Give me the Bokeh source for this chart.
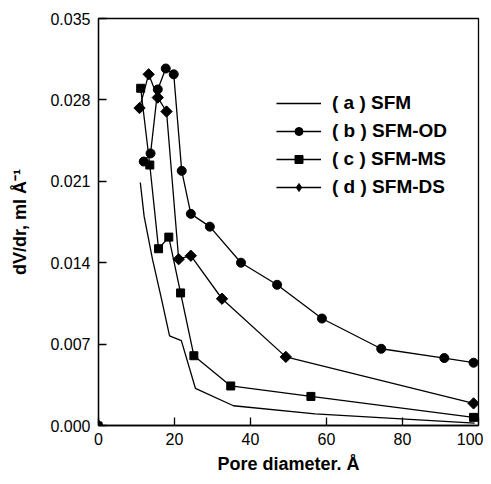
import math
from bokeh.plotting import figure
from bokeh.models import FixedTicker, Legend, LegendItem, PrintfTickFormatter
from bokeh.embed import file_html
from bokeh.resources import INLINE

# (a) SFM - line only
a_x = [11.0, 12.0, 14.2, 16.5, 18.7, 21.8, 25.5, 35.5, 57.0, 99.0]
a_y = [0.0209, 0.0180, 0.0143, 0.0110, 0.0077, 0.0073, 0.0032, 0.0017, 0.0010, 0.0002]
# (b) SFM-OD - circles
b_x = [11.9, 13.7, 15.6, 17.7, 19.8, 21.9, 24.3, 29.3, 37.5, 47.0, 58.8, 74.4, 91.0, 98.7]
b_y = [0.0227, 0.0234, 0.0289, 0.0307, 0.0302, 0.0219, 0.0182, 0.0171, 0.0140, 0.0121, 0.0092, 0.0066, 0.0058, 0.0054]
# (c) SFM-MS - squares
c_x = [11.1, 13.5, 15.8, 18.5, 21.6, 25.1, 34.8, 55.9, 98.7]
c_y = [0.0290, 0.0224, 0.0152, 0.0162, 0.0114, 0.0060, 0.0034, 0.0025, 0.0007]
# (d) SFM-DS - diamonds
d_x = [10.8, 13.2, 15.6, 17.9, 21.1, 24.3, 32.5, 49.3, 98.7]
d_y = [0.0273, 0.0302, 0.0282, 0.0270, 0.0143, 0.0146, 0.0109, 0.0059, 0.0019]

labels = ["( a ) SFM", "( b ) SFM-OD", "( c ) SFM-MS", "( d ) SFM-DS"]
x_ticks = [0, 20, 40, 60, 80, 100]
y_ticks = [0.0, 0.007, 0.014, 0.021, 0.028, 0.035]

FONT = "Liberation Sans"

p = figure(width=483, height=476, output_backend="svg", toolbar_location=None,
           x_range=(0, 100), y_range=(0, 0.035),
           min_border_left=98, min_border_right=5, min_border_top=18, min_border_bottom=50)
p.grid.visible = False
p.outline_line_color = "black"
p.outline_line_width = 1.3
p.background_fill_color = "white"
p.border_fill_color = "white"

lw = 1.3
ra = p.line(a_x, a_y, line_color="black", line_width=lw)
rb = p.line(b_x, b_y, line_color="black", line_width=lw)
rbs = p.scatter(b_x, b_y, marker="circle", size=9, fill_color="black", line_color="black")
rc = p.line(c_x, c_y, line_color="black", line_width=lw)
rcs = p.scatter(c_x, c_y, marker="square", size=8, fill_color="black", line_color="black")
rd = p.line(d_x, d_y, line_color="black", line_width=lw)
rds = p.scatter(d_x, d_y, marker="square", angle=math.pi / 4, size=8, fill_color="black", line_color="black")

# smaller markers for the legend
lb = p.scatter([None], [None], marker="circle", size=8, fill_color="black", line_color="black")
lc = p.scatter([None], [None], marker="square", size=7, fill_color="black", line_color="black")
ld = p.scatter([None], [None], marker="diamond", size=12, fill_color="black", line_color="black")

legend = Legend(items=[
    LegendItem(label=labels[0], renderers=[ra]),
    LegendItem(label=labels[1], renderers=[rb, lb]),
    LegendItem(label=labels[2], renderers=[rc, lc]),
    LegendItem(label=labels[3], renderers=[rd, ld]),
], location=(178, 227))
legend.background_fill_alpha = 0
legend.border_line_color = None
legend.padding = 0
legend.margin = 0
legend.spacing = 6
legend.label_height = 20
legend.glyph_height = 20
legend.glyph_width = 45
legend.label_standoff = 11
legend.label_text_font = FONT
legend.label_text_font_style = "bold"
legend.label_text_font_size = "19px"
legend.label_text_color = "black"
p.add_layout(legend, "center")

for ax in (p.xaxis, p.yaxis):
    ax.major_tick_in = 8
    ax.major_tick_out = 0
    ax.minor_tick_in = 0
    ax.minor_tick_out = 0
    ax.axis_line_color = "black"
    ax.axis_line_width = 1.3
    ax.major_tick_line_width = 1.3
    ax.major_label_text_font = FONT
    ax.major_label_text_font_size = "16px"
    ax.major_label_text_color = "black"
    ax.axis_label_text_font = FONT
    ax.axis_label_text_font_style = "bold"
    ax.axis_label_text_font_size = "18px"
    ax.axis_label_text_color = "black"

p.xaxis.ticker = FixedTicker(ticks=x_ticks)
p.yaxis.ticker = FixedTicker(ticks=y_ticks)
p.yaxis.formatter = PrintfTickFormatter(format="%.3f")
p.xaxis.major_label_standoff = 7
p.yaxis.major_label_standoff = 8
p.xaxis.axis_label = "Pore diameter. Å"
p.yaxis.axis_label = "dV/dr, ml Å⁻¹"
p.xaxis.axis_label_standoff = 6
p.yaxis.axis_label_standoff = 17

open("out.html", "w").write(file_html(p, INLINE))
